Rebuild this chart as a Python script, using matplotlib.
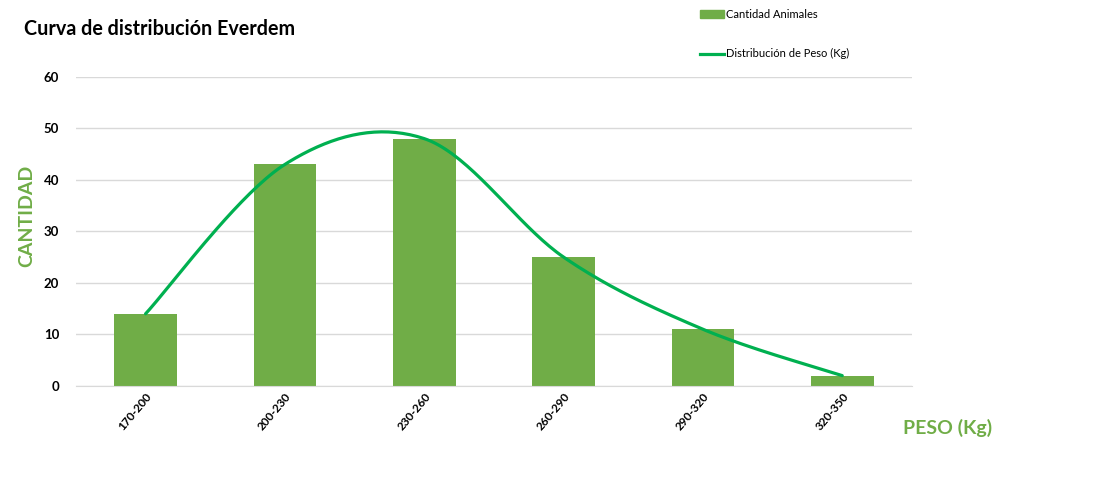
import numpy as np
import matplotlib.pyplot as plt
from matplotlib.lines import Line2D
from matplotlib.patches import Patch

plt.rcParams['font.family'] = ['Lato', 'DejaVu Sans']

categories = ['170-200', '200-230', '230-260', '260-290', '290-320', '320-350']
cantidad = [14, 43, 48, 25, 11, 2]
distribucion = [14, 43, 48, 25, 11, 2]

bar_color = '#70AD47'
line_color = '#00B050'


def smooth_line(x, y, n=40):
    # Excel-style smoothed line (Catmull-Rom through the points)
    x = np.asarray(x, float)
    y = np.asarray(y, float)
    px = np.concatenate([[x[0]], x, [x[-1]]])
    py = np.concatenate([[y[0]], y, [y[-1]]])
    xs, ys = [], []
    t = np.linspace(0, 1, n)
    for i in range(1, len(px) - 2):
        p0, p1, p2, p3 = px[i - 1], px[i], px[i + 1], px[i + 2]
        q0, q1, q2, q3 = py[i - 1], py[i], py[i + 1], py[i + 2]
        c1x, c1y = p1 + (p2 - p0) / 6, q1 + (q2 - q0) / 6
        c2x, c2y = p2 - (p3 - p1) / 6, q2 - (q3 - q1) / 6
        bx = (1 - t) ** 3 * p1 + 3 * (1 - t) ** 2 * t * c1x + 3 * (1 - t) * t ** 2 * c2x + t ** 3 * p2
        by = (1 - t) ** 3 * q1 + 3 * (1 - t) ** 2 * t * c1y + 3 * (1 - t) * t ** 2 * c2y + t ** 3 * q2
        xs.extend(bx)
        ys.extend(by)
    return np.array(xs), np.array(ys)


fig = plt.figure(figsize=(11, 4.8), dpi=100)
ax = fig.add_axes([0.069, 0.196, 0.76, 0.644])

x = np.arange(len(categories))
ax.bar(x, cantidad, width=0.45, color=bar_color, zorder=2)
sx, sy = smooth_line(x, distribucion)
ax.plot(sx, sy, color=line_color, linewidth=2.3, zorder=3, solid_capstyle='round')

ax.set_xlim(-0.5, len(categories) - 0.5)
ax.set_ylim(0, 60)
ax.set_yticks(np.arange(0, 61, 10))
ax.grid(axis='y', color='#D9D9D9', linewidth=1, zorder=0)
ax.set_axisbelow(True)
for s in ['top', 'right', 'left']:
    ax.spines[s].set_visible(False)
ax.spines['bottom'].set_color('#D9D9D9')
ax.tick_params(axis='both', length=0)
ax.tick_params(axis='y', pad=12)
ax.set_xticks(x)
ax.set_xticklabels(categories, rotation=50, ha='right', rotation_mode='anchor',
                   fontsize=8.5, fontweight='bold')
for lbl in ax.get_yticklabels():
    lbl.set_fontsize(9.5)
    lbl.set_fontweight('bold')

# axis titles placed like the original chart
fig.text(0.024, 0.55, 'CANTIDAD', rotation=90, color=bar_color, fontsize=14,
         fontweight='bold', va='center', ha='center')
fig.text(0.821, 0.108, 'PESO (Kg)', fontsize=14, fontweight='bold',
         color=bar_color, va='center', ha='left')

fig.text(0.022, 0.94, 'Curva de distribución Everdem', fontsize=14.2,
         fontweight='bold', va='center', ha='left')

handles = [Patch(color=bar_color, label='Cantidad Animales'),
           Line2D([0], [0], color=line_color, linewidth=2.3, label='Distribución de Peso (Kg)')]
fig.legend(handles=handles, loc='upper left', bbox_to_anchor=(0.627, 1.003),
           frameon=False, fontsize=8, labelspacing=2.6, handlelength=2.2,
           handleheight=0.7, handletextpad=0.2)

fig.savefig('out.png', dpi=100)
